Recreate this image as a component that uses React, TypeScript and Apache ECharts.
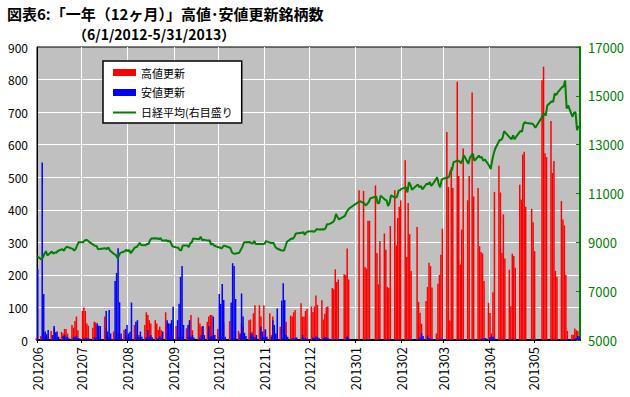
import React, { useEffect, useRef } from 'react';
import * as echarts from 'echarts';

const FONT = '"Noto Sans CJK JP", "Noto Sans", sans-serif';

const titleLine1 = '図表6:「一年（12ヶ月）」高値･安値更新銘柄数';
const titleLine2 = '（6/1/2012-5/31/2013）';

const seriesNames = ['高値更新', '安値更新', '日経平均(右目盛り'];

// months shown on the x axis (tick labels)
const monthLabels = [
  '201206', '201207', '201208', '201209', '201210', '201211',
  '201212', '201301', '201302', '201303', '201304', '201305',
];

// trading days of each month
const tradingDays: number[][] = [
  [1, 4, 5, 6, 7, 8, 11, 12, 13, 14, 15, 18, 19, 20, 21, 22, 25, 26, 27, 28, 29],
  [2, 3, 4, 5, 6, 9, 10, 11, 12, 13, 17, 18, 19, 20, 23, 24, 25, 26, 27, 30, 31],
  [1, 2, 3, 6, 7, 8, 9, 10, 13, 14, 15, 16, 17, 20, 21, 22, 23, 24, 27, 28, 29, 30, 31],
  [3, 4, 5, 6, 7, 10, 11, 12, 13, 14, 18, 19, 20, 21, 24, 25, 26, 27, 28],
  [1, 2, 3, 4, 5, 9, 10, 11, 12, 15, 16, 17, 18, 19, 22, 23, 24, 25, 26, 29, 30, 31],
  [1, 2, 5, 6, 7, 8, 9, 12, 13, 14, 15, 16, 19, 20, 21, 22, 26, 27, 28, 29, 30],
  [3, 4, 5, 6, 7, 10, 11, 12, 13, 14, 17, 18, 19, 20, 21, 25, 26, 27, 28],
  [4, 7, 8, 9, 10, 11, 15, 16, 17, 18, 21, 22, 23, 24, 25, 28, 29, 30, 31],
  [1, 4, 5, 6, 7, 8, 12, 13, 14, 15, 18, 19, 20, 21, 22, 25, 26, 27, 28],
  [1, 4, 5, 6, 7, 8, 11, 12, 13, 14, 15, 18, 19, 21, 22, 25, 26, 27, 28, 29],
  [1, 2, 3, 4, 5, 8, 9, 10, 11, 12, 15, 16, 17, 18, 19, 22, 23, 24, 25, 26, 30],
  [1, 2, 7, 8, 9, 10, 13, 14, 15, 16, 17, 20, 21, 22, 23, 24, 27, 28, 29, 30, 31],
];

// 高値更新 (new highs), by trading day
const highCount = [
  5, 12, 8, 20, 10, 8, 28, 12, 36, 25, 8, 25, 20, 34, 34, 20, 46, 38, 58, 72, 30,
  89, 100, 89, 51, 44, 38, 56, 54, 44, 15, 72, 36, 10, 8, 26, 5, 10, 20, 8, 31, 20,
  8, 10, 5, 46, 10, 15, 15, 8, 46, 85, 77, 61, 51, 61, 51, 31, 41, 31, 85, 51, 20, 10, 12,
  43, 10, 8, 15, 10, 36, 10, 51, 77, 30, 69, 51, 41, 41, 56, 72, 77, 77, 20,
  34, 10, 8, 10, 53, 58, 5, 5, 5, 28, 10, 51, 41, 10, 61, 63, 25, 82, 107, 107, 72, 20,
  107, 30, 82, 15, 72, 26, 10, 41, 5, 5, 49, 56, 75, 72, 85, 92, 113, 72, 72, 89, 95,
  103, 86, 103, 137, 108, 122, 63, 81, 101, 103, 160, 156, 217, 178, 186, 202, 199, 281, 186,
  460, 458, 224, 219, 366, 366, 475, 267, 171, 303, 327, 277, 163, 160, 350, 460, 291, 375, 409,
  429, 552, 255, 421, 325, 212, 347, 117, 84, 50, 120, 163, 237, 227, 161, 20, 173, 200, 262,
  342, 639, 470, 60, 531, 467, 793, 504, 232, 339, 588, 429, 504, 760, 441, 467, 288, 270, 266, 181,
  114, 83, 20, 147, 455, 535, 453, 267, 386, 250, 216, 104, 265, 258, 222, 477, 431, 570, 578, 409, 403,
  362, 273, 798, 839, 574, 562, 673, 513, 550, 212, 194, 427, 370, 352, 200, 28, 16, 16, 35, 30, 28,
];

// 安値更新 (new lows), by trading day
const lowCount = [
  218, 545, 141, 26, 18, 31, 15, 43, 22, 26, 10, 12, 15, 8, 10, 5, 8, 10, 12, 6, 5,
  5, 5, 6, 5, 4, 8, 8, 51, 44, 43, 89, 26, 92, 20, 181, 206, 282, 116, 20, 34, 46,
  20, 25, 115, 56, 61, 10, 26, 10, 8, 31, 8, 15, 8, 6, 5, 12, 6, 26, 61, 51, 51, 61, 102,
  61, 111, 194, 227, 46, 46, 61, 10, 15, 8, 8, 15, 43, 15, 43, 10, 12, 72, 15,
  141, 111, 172, 123, 10, 115, 236, 227, 126, 20, 143, 72, 22, 12, 20, 20, 10, 8, 15, 41, 26, 10,
  33, 10, 10, 61, 46, 20, 97, 121, 174, 123, 15, 10, 6, 5, 5, 8, 15, 5, 5, 4, 3,
  8, 6, 10, 10, 6, 6, 8, 8, 5, 4, 3, 3, 2, 3, 2, 4, 11, 5, 3,
  2, 1, 3, 2, 1, 1, 1, 2, 3, 1, 1, 2, 3, 2, 1, 1, 2, 1, 1,
  1, 1, 3, 1, 2, 3, 4, 8, 21, 12, 14, 6, 3, 4, 2, 1, 3, 4, 2,
  3, 2, 1, 2, 1, 1, 2, 1, 3, 1, 1, 2, 1, 1, 2, 1, 3, 5, 4, 6,
  8, 12, 10, 5, 3, 2, 1, 1, 1, 1, 2, 3, 2, 1, 1, 1, 1, 1, 1, 1, 2,
  1, 2, 1, 1, 1, 1, 1, 2, 1, 1, 1, 1, 1, 1, 2, 3, 2, 4, 6, 12, 10,
];

// 日経平均 (Nikkei 225 close), by trading day
const nikkei = [
  8440, 8295, 8383, 8533, 8639, 8459, 8624, 8536, 8587, 8568, 8647, 8721, 8656, 8752, 8824, 8798, 8734, 8663, 8730, 8874, 9006,
  9003, 9066, 9104, 9079, 9020, 8896, 8857, 8851, 8720, 8724, 8755, 8726, 8795, 8669, 8508, 8488, 8365, 8443, 8566, 8635, 8695,
  8640, 8680, 8555, 8803, 8804, 8881, 8978, 8891, 8885, 8929, 8929, 9092, 9162, 9171, 9156, 9131, 9178, 9070, 9085, 9033, 9069, 8983, 8839,
  8783, 8775, 8679, 8680, 8871, 8869, 8807, 8959, 8995, 9159, 9123, 9232, 9086, 9110, 9069, 9091, 8906, 8949, 8870,
  8796, 8786, 8746, 8824, 8863, 8769, 8596, 8546, 8534, 8577, 8701, 8806, 8982, 9002, 9010, 8964, 8954, 9056, 8933, 8929, 8928, 8928,
  8946, 9051, 8975, 8975, 8972, 8837, 8757, 8676, 8661, 8664, 8829, 9024, 9153, 9142, 9222, 9366, 9388, 9423, 9308, 9400, 9446,
  9458, 9432, 9468, 9545, 9527, 9533, 9525, 9581, 9742, 9737, 9828, 9923, 10160, 10039, 9940, 10080, 10230, 10322, 10395,
  10688, 10599, 10508, 10578, 10652, 10801, 10879, 10600, 10609, 10913, 10747, 10709, 10486, 10620, 10926, 10824, 10866, 11113, 11138,
  11191, 11260, 11046, 11463, 11357, 11153, 11369, 11251, 11307, 11173, 11407, 11372, 11468, 11309, 11385, 11662, 11398, 11253, 11559,
  11606, 11652, 11683, 11932, 11968, 12283, 12349, 12314, 12239, 12381, 12560, 12220, 12468, 12635, 12338, 12546, 12471, 12493, 12336, 12397,
  12135, 12003, 12362, 12634, 12833, 13192, 13192, 13288, 13549, 13485, 13275, 13221, 13382, 13220, 13316, 13568, 13529, 13843, 13926, 13884, 13860,
  13799, 13694, 14180, 14285, 14191, 14607, 14782, 14758, 15096, 15037, 15138, 15360, 15381, 15627, 14483, 14612, 14142, 14311, 14326, 13589, 13774,
];

// x is measured in calendar days since 2012-06-01
const DAY = 86400000;
const origin = Date.UTC(2012, 5, 1);
const dayOf = (y: number, m: number, d: number) => Math.round((Date.UTC(y, m, d) - origin) / DAY);
const axisEndDay = dayOf(2013, 5, 1);

const monthYM = monthLabels.map((s) => [Number(s.slice(0, 4)), Number(s.slice(4)) - 1]);
const dayX: number[] = [];
monthYM.forEach(([y, m], i) => tradingDays[i].forEach((d) => dayX.push(dayOf(y, m, d))));
const monthStartX = monthYM.map(([y, m]) => dayOf(y, m, 1));
const labelByX: Record<number, string> = {};
monthStartX.forEach((x, i) => { labelByX[x] = monthLabels[i]; });

export default function App() {
  const ref = useRef<HTMLDivElement>(null);

  useEffect(() => {
    if (!ref.current) return;
    const chart = echarts.init(ref.current, null, { renderer: 'svg' });
    const option: any = {
      animation: false,
      backgroundColor: '#FFFFFF',
      textStyle: { fontFamily: FONT },
      title: [
        {
          text: titleLine1,
          left: 7,
          top: 6,
          padding: 0,
          textStyle: { fontSize: 15, fontWeight: 'bold', color: '#000', fontFamily: FONT },
        },
        {
          text: titleLine2,
          left: 73,
          top: 27,
          padding: 0,
          textStyle: { fontSize: 14, fontWeight: 'bold', color: '#000', fontFamily: FONT },
        },
      ],
      legend: {
        orient: 'vertical',
        left: 103,
        top: 61,
        padding: [6, 9, 5, 10],
        itemGap: 9,
        itemWidth: 23,
        itemHeight: 7,
        backgroundColor: '#FFFFFF',
        borderColor: '#000000',
        borderWidth: 1.5,
        textStyle: { fontSize: 11, color: '#000', fontFamily: FONT },
        data: [
          { name: seriesNames[0], icon: 'rect' },
          { name: seriesNames[1], icon: 'rect' },
          { name: seriesNames[2], icon: 'path://M0,0H23V2H0Z', itemStyle: { borderWidth: 0 } },
        ],
      },
      grid: {
        left: 37,
        right: 50,
        top: 47,
        bottom: 57,
        show: true,
        backgroundColor: '#C0C0C0',
        borderColor: '#000000',
        borderWidth: 1,
      },
      xAxis: {
        type: 'value',
        min: 0,
        max: axisEndDay,
        axisLine: { show: true, onZero: false, lineStyle: { color: '#000', width: 2 } },
        axisTick: { show: true, customValues: monthStartX, length: 3, lineStyle: { color: '#000' } },
        axisLabel: {
          customValues: monthStartX,
          rotate: 90,
          margin: 7,
          fontSize: 13,
          color: '#000',
          fontFamily: FONT,
          formatter: (v: number) => labelByX[Math.round(v)] ?? '',
        },
        splitLine: {
          show: true,
          showMinLine: false,
          showMaxLine: false,
          lineStyle: { color: '#FFFFFF', width: 1 },
        },
      },
      yAxis: [
        {
          type: 'value',
          min: 0,
          max: 900,
          interval: 100,
          axisLine: { show: true, lineStyle: { color: '#000', width: 1 } },
          axisTick: { show: false },
          axisLabel: { fontSize: 12, color: '#000', margin: 9, fontFamily: FONT },
          splitLine: {
            show: true,
            showMinLine: false,
            showMaxLine: false,
            lineStyle: { color: '#FFFFFF', width: 1 },
          },
        },
        {
          type: 'value',
          position: 'right',
          min: 5000,
          max: 17000,
          interval: 2000,
          axisLine: { show: true, lineStyle: { color: '#008000', width: 2 } },
          axisTick: { show: true, inside: true, length: 4, lineStyle: { color: '#008000' } },
          axisLabel: {
            fontSize: 13,
            color: '#008000',
            margin: 8,
            fontFamily: FONT,
            formatter: (v: number) => String(v),
          },
          splitLine: { show: false },
        },
      ],
      series: [
        {
          name: seriesNames[0],
          type: 'bar',
          data: dayX.map((x, i) => [x, highCount[i]]),
          barWidth: 1.5,
          barGap: '0%',
          itemStyle: { color: '#FF0000' },
        },
        {
          name: seriesNames[1],
          type: 'bar',
          data: dayX.map((x, i) => [x, lowCount[i]]),
          barWidth: 1.5,
          barGap: '0%',
          itemStyle: { color: '#0000FF' },
        },
        {
          name: seriesNames[2],
          type: 'line',
          yAxisIndex: 1,
          data: dayX.map((x, i) => [x, nikkei[i]]),
          symbol: 'none',
          lineStyle: { color: '#008000', width: 2 },
          itemStyle: { color: '#008000' },
        },
      ],
    };
    chart.setOption(option);
    return () => chart.dispose();
  }, []);

  return (
    <div
      ref={ref}
      style={{ position: 'fixed', left: 0, top: 0, width: 630, height: 397 }}
    />
  );
}
